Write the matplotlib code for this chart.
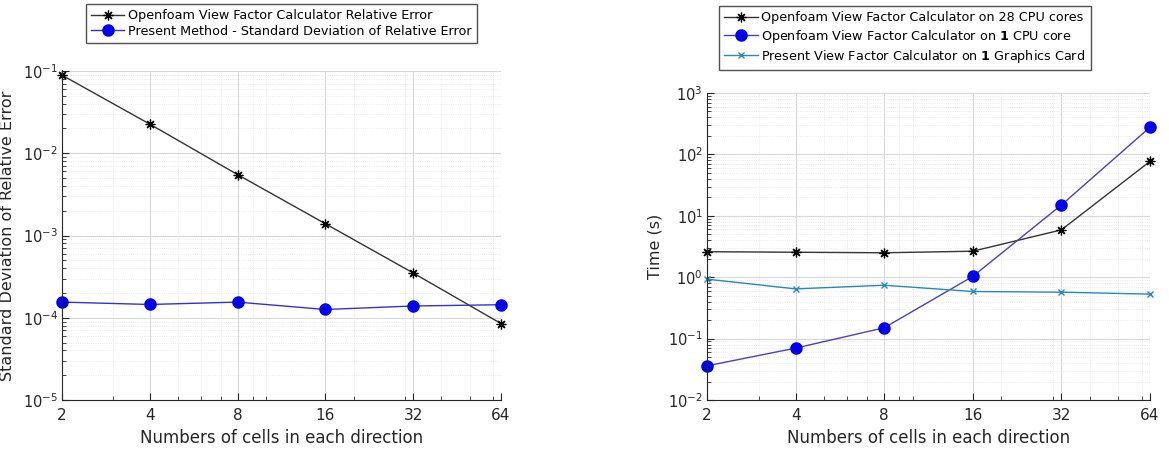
import matplotlib
matplotlib.use("Agg")
import matplotlib.pyplot as plt
from matplotlib.ticker import LogLocator, FixedLocator, NullFormatter

plt.rcParams['font.family'] = ['DejaVu Sans']

# Numero de celulas em cada direcao
cells = [2, 4, 8, 16, 32, 64]

# Grafico da esquerda - erro relativo
err_openfoam = [0.089, 0.0226, 0.0055, 0.00139, 0.00035, 0.000085]
std_present = [0.000155, 0.000145, 0.000155, 0.000126, 0.000139, 0.000144]

# Grafico da direita - tempo (s)
t_of_28 = [2.6, 2.55, 2.5, 2.65, 5.9, 77]
t_of_1 = [0.036, 0.07, 0.15, 1.03, 15, 277]
t_gpu = [0.93, 0.645, 0.74, 0.585, 0.57, 0.53]

xticks = [2, 4, 8, 16, 32, 64]
xticklabels = ['2', '4', '8', '16', '32', '64']

fig = plt.figure(figsize=(11.69, 4.51), dpi=100)
W, H = 1169, 451
ax1 = fig.add_axes([62 / W, 1 - 400 / H, (501 - 62) / W, (400 - 71) / H])
ax2 = fig.add_axes([707 / W, 1 - 400 / H, (1150 - 707) / W, (400 - 93) / H])

asterisco = (8, 2, 0)  # asterisco estilo matlab


def estilo(ax, ylim):
    ax.set_xscale('log')
    ax.set_yscale('log')
    ax.set_xlim(2, 64)
    ax.set_ylim(*ylim)
    ax.xaxis.set_major_locator(FixedLocator(xticks))
    ax.set_xticklabels(xticklabels)
    ax.xaxis.set_minor_locator(FixedLocator([3, 5, 6, 7, 9, 10, 20, 30, 40, 50, 60]))
    ax.xaxis.set_minor_formatter(NullFormatter())
    ax.yaxis.set_minor_locator(LogLocator(base=10, subs=range(2, 10)))
    ax.yaxis.set_minor_formatter(NullFormatter())
    ax.grid(True, which='major', color='#d8d8d8', lw=0.8)
    ax.grid(True, which='minor', color='#e4e4e4', lw=0.6, ls=':')
    ax.set_axisbelow(True)
    for s in ['top', 'right']:
        ax.spines[s].set_visible(False)
    for s in ['left', 'bottom']:
        ax.spines[s].set_color('#262626')
    ax.tick_params(which='both', direction='in', colors='#262626', labelsize=10.5)
    ax.tick_params(which='major', length=5)
    ax.tick_params(which='minor', length=3)
    ax.tick_params(axis='x', pad=6, labelsize=11)
    ax.tick_params(axis='y', pad=3)
    ax.set_xlabel('Numbers of cells in each direction', fontsize=12, color='#262626')


# Esquerda
ax1.plot(cells, err_openfoam, color='#333333', lw=1, marker=asterisco, ms=7, mew=0.9, mec='black',
         label='Openfoam View Factor Calculator Relative Error', clip_on=False)
ax1.plot(cells, std_present, color='#3333cc', lw=1, marker='o', ms=8, mec='#0000ee', mfc='#0000ee',
         label='Present Method - Standard Deviation of Relative Error', clip_on=False)
estilo(ax1, (1e-5, 1e-1))
ax1.set_ylabel('Standard Deviation of Relative Error', fontsize=11.5, color='#262626')
ax1.yaxis.set_label_coords(-0.107, 0.5)
ax1.legend(loc='lower center', bbox_to_anchor=(0.5, 1.085), fontsize=9.2, frameon=True,
           fancybox=False, edgecolor='#262626', borderpad=0.4, labelspacing=0.2,
           handlelength=2.6, handletextpad=0.3, borderaxespad=0)

# Direita
ax2.plot(cells, t_of_28, color='#333333', lw=1, marker=asterisco, ms=7, mew=0.9, mec='black',
         label='Openfoam View Factor Calculator on 28 CPU cores', clip_on=False)
ax2.plot(cells, t_of_1, color='#4a40c0', lw=1, marker='o', ms=8, mec='#0000ee', mfc='#0000ee',
         label=r'Openfoam View Factor Calculator on $\mathbf{1}$ CPU core', clip_on=False)
ax2.plot(cells, t_gpu, color='#2a88b8', lw=1, marker='x', ms=5, mec='#2a88b8',
         label=r'Present View Factor Calculator on $\mathbf{1}$ Graphics Card', clip_on=False)
estilo(ax2, (1e-2, 1e3))
ax2.set_ylabel('Time (s)', fontsize=11.5, color='#262626')
ax2.legend(loc='lower center', bbox_to_anchor=(0.447, 1.075), fontsize=9.2, frameon=True,
           fancybox=False, edgecolor='#262626', borderpad=0.4, labelspacing=0.25,
           handlelength=2.6, handletextpad=0.3, borderaxespad=0)

fig.savefig('out.png', dpi=100, facecolor='white')
